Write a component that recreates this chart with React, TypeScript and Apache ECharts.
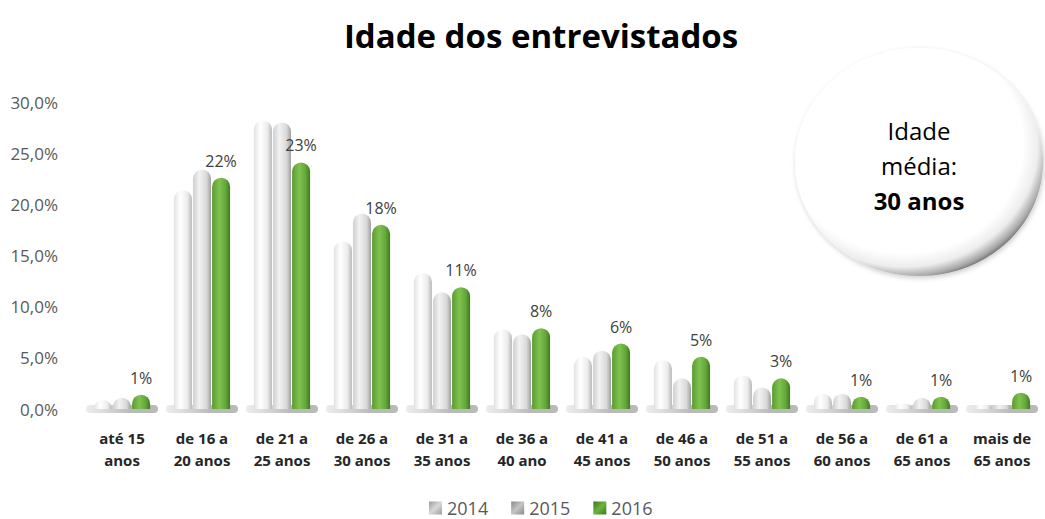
import React, { useEffect, useRef } from "react";
import * as echarts from "echarts";

const categories = [
  "até 15\nanos",
  "de 16 a\n20 anos",
  "de 21 a\n25 anos",
  "de 26 a\n30 anos",
  "de 31 a\n35 anos",
  "de 36 a\n40 ano",
  "de 41 a\n45 anos",
  "de 46 a\n50 anos",
  "de 51 a\n55 anos",
  "de 56 a\n60 anos",
  "de 61 a\n65 anos",
  "mais de\n65 anos",
];
const values2014 = [0.9, 21.4, 28.2, 16.4, 13.3, 7.8, 5.1, 4.8, 3.3, 1.5, 0.5, 0.4];
const values2015 = [1.1, 23.4, 28.0, 19.1, 11.4, 7.3, 5.7, 3.0, 2.1, 1.5, 1.1, 0.4];
const values2016 = [1.4, 22.6, 24.1, 18.0, 11.9, 7.9, 6.4, 5.1, 3.0, 1.2, 1.2, 1.6];
const labels2016 = ["1%", "22%", "23%", "18%", "11%", "8%", "6%", "5%", "3%", "1%", "1%", "1%"];
const yTicks = { min: 0, max: 30, interval: 5 };
const seriesNames = ["2014", "2015", "2016"];
const titleText = "Idade dos entrevistados";
const bubbleLines = ["Idade", "média:", "30 anos"];

const FONT = "'Open Sans', sans-serif";

const grad = (stops: [number, string][]) =>
  new echarts.graphic.LinearGradient(
    0, 0, 1, 0,
    stops.map(([offset, color]) => ({ offset, color }))
  );

export default function App() {
  const ref = useRef<HTMLDivElement>(null);
  useEffect(() => {
    if (!ref.current) return;
    const chart = echarts.init(ref.current, undefined, { renderer: "svg" });
    const barBase = {
      type: "bar" as const,
      barWidth: 18,
      barGap: "6%",
      itemStyle: { borderRadius: [9, 9, 0, 0] },
      z: 3,
    };
    const bubbleText = (text: string, y: number, bold: boolean) => ({
      type: "text",
      z: 11,
      x: 919,
      y,
      style: {
        text,
        textAlign: "center",
        textVerticalAlign: "middle",
        fontFamily: FONT,
        fontSize: 24,
        fontWeight: bold ? "bold" : "normal",
        fill: "#000000",
      },
    });
    const legendIcon = (c0: string, c1: string) =>
      new echarts.graphic.LinearGradient(0, 0, 1, 1, [
        { offset: 0, color: c1 },
        { offset: 0.5, color: c0 },
        { offset: 1, color: c1 },
      ]);
    chart.setOption({
      animation: false,
      backgroundColor: "#ffffff",
      title: {
        text: titleText,
        left: 536,
        top: 14,
        textAlign: "center",
        textStyle: { fontFamily: FONT, fontSize: 33, fontWeight: "bold", color: "#000000" },
      },
      legend: {
        data: [
          { name: seriesNames[0], itemStyle: { color: legendIcon("#d9d9d9", "#9a9a9a") } },
          { name: seriesNames[1], itemStyle: { color: legendIcon("#c4c4c4", "#8a8a8a") } },
          { name: seriesNames[2], itemStyle: { color: legendIcon("#6cb33e", "#3a7a1c") } },
        ],
        left: 429,
        top: 499,
        padding: 0,
        itemWidth: 13,
        itemHeight: 13,
        itemGap: 23,
        icon: "rect",
        textStyle: { fontFamily: FONT, fontSize: 18, color: "#595959" },
      },
      grid: { left: 82, right: 3, top: 102, bottom: 110, containLabel: false },
      xAxis: {
        type: "category",
        data: categories,
        axisLine: { show: false },
        axisTick: { show: false },
        axisLabel: {
          interval: 0,
          margin: 18,
          fontFamily: FONT,
          fontSize: 15,
          fontWeight: "bold",
          lineHeight: 22,
          color: "#262626",
        },
      },
      yAxis: {
        type: "value",
        min: yTicks.min,
        max: yTicks.max,
        interval: yTicks.interval,
        splitLine: { show: false },
        axisLine: { show: false },
        axisTick: { show: false },
        axisLabel: {
          margin: 24,
          fontFamily: FONT,
          fontSize: 17,
          color: "#595959",
          formatter: (v: number) => v.toFixed(1).replace(".", ",") + "%",
        },
      },
      series: [
        {
          type: "custom",
          name: "floor",
          z: 1,
          silent: true,
          data: categories.map((_, i) => [i]),
          encode: { x: 0 },
          renderItem: (params: any, api: any) => {
            const i = api.value(0);
            const p = api.coord([i, 0]);
            const w = api.size([1, 0])[0];
            return {
              type: "rect",
              shape: { x: p[0] - w * 0.45, y: p[1] - 4, width: w * 0.9, height: 8, r: 4 },
              style: {
                fill: new echarts.graphic.LinearGradient(0, 0, 1, 0, [
                  { offset: 0, color: "rgba(225,225,225,0.6)" },
                  { offset: 0.6, color: "rgba(170,170,170,0.8)" },
                  { offset: 1, color: "rgba(140,140,140,0.6)" },
                ]),
              },
            };
          },
        },
        {
          ...barBase,
          name: seriesNames[0],
          data: values2014,
          itemStyle: {
            ...barBase.itemStyle,
            color: grad([[0, "#e2e2e2"], [0.35, "#ffffff"], [0.75, "#ececec"], [1, "#b8b8b8"]]),
          },
        },
        {
          ...barBase,
          name: seriesNames[1],
          data: values2015,
          itemStyle: {
            ...barBase.itemStyle,
            color: grad([[0, "#cfcfcf"], [0.35, "#f2f2f2"], [0.75, "#d9d9d9"], [1, "#a0a0a0"]]),
          },
        },
        {
          ...barBase,
          name: seriesNames[2],
          data: values2016,
          itemStyle: {
            ...barBase.itemStyle,
            color: grad([[0, "#5c9c30"], [0.4, "#7ec24e"], [0.75, "#64a83a"], [1, "#3e7a20"]]),
          },
          label: {
            show: true,
            position: "top",
            distance: 9,
            fontFamily: FONT,
            fontSize: 16,
            color: "#404040",
            formatter: (p: any) => labels2016[p.dataIndex],
          },
        },
      ],
      graphic: [
        {
          type: "ellipse",
          z: 10,
          shape: { cx: 919, cy: 162, rx: 124, ry: 114 },
          style: {
            fill: new echarts.graphic.RadialGradient(0.44, 0.42, 0.6, [
              { offset: 0, color: "#ffffff" },
              { offset: 0.8, color: "#ffffff" },
              { offset: 0.9, color: "#ededed" },
              { offset: 0.97, color: "#a8a8a8" },
              { offset: 1, color: "#777777" },
            ]),
            shadowBlur: 5,
            shadowColor: "rgba(0,0,0,0.2)",
            shadowOffsetX: 1,
            shadowOffsetY: 2,
          },
        },
        bubbleText(bubbleLines[0], 130, false),
        bubbleText(bubbleLines[1], 165, false),
        bubbleText(bubbleLines[2], 200, true),
      ],
    });
    return () => chart.dispose();
  }, []);
  return (
    <div
      ref={ref}
      style={{ position: "absolute", left: 0, top: 0, width: 1045, height: 519 }}
    />
  );
}
